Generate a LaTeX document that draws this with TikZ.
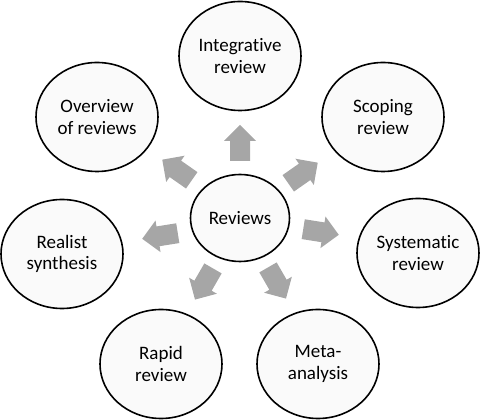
\documentclass[tikz,border=0pt]{standalone}
\usepackage{fontspec}
\setmainfont{Carlito}[Ligatures={NoCommon}]
\usetikzlibrary{shapes.geometric}
\begin{document}
\begin{tikzpicture}[x=1pt,y=1pt,
  eb/.style={ellipse,draw=black,line width=1.6pt,fill=black!2,
    minimum width=122pt,minimum height=109pt,inner sep=0pt,align=center,
    font=\fontsize{19}{21.5}\selectfont},
  pics/blockarrow/.style={code={
    \fill[black!35] (-18,-10) -- (2,-10) -- (2,-16) -- (18,0) -- (2,16) -- (2,10) -- (-18,10) -- cycle;}}
]
\useasboundingbox (0,0) rectangle (480,420);
\node[eb,minimum width=99pt,minimum height=87pt] (rev) at (240,202) {Reviews};
\node[eb] (integ) at (240,364) {Integrative\\review};
\node[eb] (over) at (97,303) {Overview\\of reviews};
\node[eb] (scop) at (383,303) {Scoping\\review};
\node[eb] (real) at (62,166) {Realist\\synthesis};
\node[eb] (syst) at (418,167) {Systematic\\review};
\node[eb] (rapid) at (161,56) {Rapid\\review};
\node[eb] (meta) at (318,56) {Meta-\\analysis};
% block arrows
\pic[rotate=90] at (240,277) {blockarrow};
\pic[rotate=145] at (177,250) {blockarrow};
\pic[rotate=35] at (303,247) {blockarrow};
\pic[rotate=189] at (160,184) {blockarrow};
\pic[rotate=-9] at (321,188) {blockarrow};
\pic[rotate=240] at (204,136) {blockarrow};
\pic[rotate=300] at (277,137) {blockarrow};
\end{tikzpicture}
\end{document}
